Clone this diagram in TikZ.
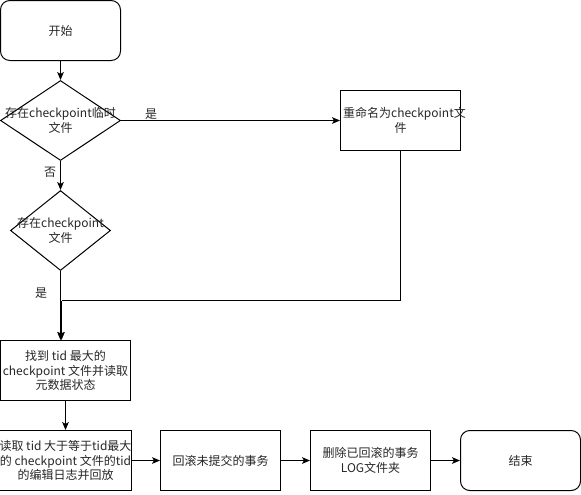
\documentclass[tikz,border=0pt]{standalone}
\usepackage{fontspec}
\setmainfont{Noto Sans CJK SC}
\usetikzlibrary{shapes.geometric,arrows.meta}
\begin{document}
\begin{tikzpicture}[x=0.75pt,y=-0.75pt,
  every node/.style={font=\fontsize{9pt}{11pt}\selectfont, text=black!85},
  box/.style={draw, line width=0.75pt, minimum width=90pt, minimum height=45pt, inner sep=0pt, align=center},
  rbox/.style={box, rounded corners=7pt},
  dia/.style={draw, diamond, line width=0.75pt, inner sep=0pt},
  lbl/.style={inner sep=0pt, align=center},
  arr/.style={line width=0.75pt, -{Stealth[length=6pt,width=5pt,inset=1.5pt]}},
  ln/.style={line width=0.75pt}]
\useasboundingbox (0,0) rectangle (581,494);
\node[rbox] (start) at (60.5,30.5) {开始};
\node[dia, minimum width=90pt, minimum height=60pt] (d1) at (60.5,120.5) {};
\node[lbl] (d1t) at (d1) {存在checkpoint临时\\文件};
\node[box, text width=86pt] (ren) at (400.5,120.5) {重命名为checkpoint文\\件};
\node[dia, minimum width=75pt, minimum height=60pt] (d2) at (60.5,230.5) {};
\node[lbl] (d2t) at (d2) {存在checkpoint\\文件};
\node[box, minimum width=97.5pt] (b3) at (65.5,370.5) {找到 tid 最大的\\checkpoint 文件并读取\\元数据状态};
\node[box, minimum width=97.5pt] (b4) at (65.5,460.5) {读取 tid 大于等于tid最大\\的 checkpoint 文件的tid\\的编辑日志并回放};
\node[box] (b5) at (220.5,460.5) {回滚未提交的事务};
\node[box] (b6) at (370.5,460.5) {删除已回滚的事务\\LOG文件夹};
\node[rbox] (end) at (520.5,460.5) {结束};
\node[lbl] (yes1) at (151,114) {是};
\node[lbl] (no1) at (50,172) {否};
\node[lbl] (yes2) at (41,293) {是};
\coordinate (m) at (61.5,300.5);
\draw[arr] (start.south) -- (d1.north);
\draw[arr] (d1.east) -- (ren.west);
\draw[arr] (d1.south) -- (d2.north);
\draw[arr] (d2.south) -- (d2.south |- b3.north);
\draw[ln] (ren.south) |- (m);
\draw[arr] (m) -- (m |- b3.north);
\draw[arr] (b3.south) -- (b4.north);
\draw[arr] (b4.east) -- (b5.west);
\draw[arr] (b5.east) -- (b6.west);
\draw[arr] (b6.east) -- (end.west);
\end{tikzpicture}
\end{document}
